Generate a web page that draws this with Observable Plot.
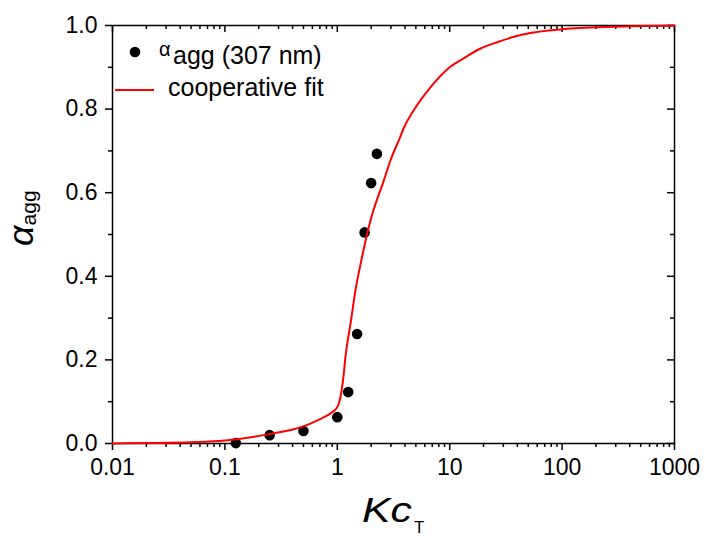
<!DOCTYPE html>
<html><head><meta charset="utf-8">
<script src="https://cdn.jsdelivr.net/npm/d3@7"></script>
<script src="https://cdn.jsdelivr.net/npm/@observablehq/plot@0.6"></script>
<style>body{margin:0;background:#fff}</style>
</head><body><div id="chart"></div>
<script>
// Measured data (alpha_agg at 307 nm)
const pointKc    = [0.125, 0.25, 0.5, 1.0, 1.25, 1.5, 1.75, 2.0, 2.25];
const pointAlpha = [0.001, 0.020, 0.030, 0.063, 0.123, 0.262, 0.505, 0.623, 0.693];
// Cooperative fit curve
const fitKc    = [0.01, 0.02, 0.05, 0.1, 0.255, 0.5, 0.71, 0.87, 1.0, 1.03, 1.08, 1.14, 1.18, 1.31, 1.45, 1.66, 1.97, 2.59, 2.97, 3.65, 3.91, 5.0, 6.74, 10, 13.4, 18.8, 26.4, 37.3, 52, 100, 288, 1000];
const fitAlpha = [0.000, 0.001, 0.003, 0.007, 0.023, 0.041, 0.059, 0.072, 0.087, 0.095, 0.119, 0.165, 0.206, 0.286, 0.366, 0.446, 0.533, 0.629, 0.677, 0.735, 0.755, 0.805, 0.852, 0.900, 0.922, 0.945, 0.960, 0.973, 0.982, 0.991, 0.997, 1.0];
// Ticks
const xMajorTicks = [0.01, 0.1, 1, 10, 100, 1000];
const xMinorMultipliers = [2, 3, 4, 5, 6, 7, 8, 9];
const xMinorTicks = xMajorTicks.slice(0, -1).flatMap(d => xMinorMultipliers.map(m => +(d * m).toPrecision(3)));
const yMajorTicks = [0, 0.2, 0.4, 0.6, 0.8, 1.0];
const yMinorTicks = [0.1, 0.3, 0.5, 0.7, 0.9];
const legendLabels = ["agg (307 nm)", "cooperative fit"];

const W = 705, H = 536, mL = 112, mR = 31, mT = 25, mB = 93;
const plotW = W - mL - mR, plotH = H - mT - mB;

const points = pointKc.map((k, i) => ({k, a: pointAlpha[i]}));
const fit = fitKc.map((k, i) => ({k, a: fitAlpha[i]}));

const chart = Plot.plot({
  width: W, height: H,
  marginLeft: mL, marginRight: mR, marginTop: mT, marginBottom: mB,
  style: {fontFamily: "'Liberation Sans', Arial, sans-serif", fontSize: "23px", color: "black", background: "white", overflow: "visible"},
  x: {type: "log", domain: [0.01, 1000]},
  y: {domain: [0, 1]},
  marks: [
    Plot.axisX(xMajorTicks, {anchor: "bottom", tickSize: 7, tickPadding: 8, tickFormat: d => String(d), fontSize: 23, label: null, strokeWidth: 1.5}),
    Plot.axisX(xMinorTicks, {anchor: "bottom", tickSize: 4, tickFormat: () => "", label: null, strokeWidth: 1.5}),
    Plot.axisY(yMajorTicks, {anchor: "left", tickSize: 7, tickPadding: 8, tickFormat: d3.format(".1f"), fontSize: 23, label: null, strokeWidth: 1.5}),
    Plot.axisY(yMinorTicks, {anchor: "left", tickSize: 4, tickFormat: () => "", label: null, strokeWidth: 1.5}),
    Plot.tickX(xMajorTicks, {x: d => d, insetBottom: plotH - 7, stroke: "black", strokeWidth: 1.5}),
    Plot.tickX(xMinorTicks, {x: d => d, insetBottom: plotH - 4, stroke: "black", strokeWidth: 1.5}),
    Plot.tickY(yMajorTicks, {y: d => d, insetLeft: plotW - 7, stroke: "black", strokeWidth: 1.5}),
    Plot.tickY(yMinorTicks, {y: d => d, insetLeft: plotW - 4, stroke: "black", strokeWidth: 1.5}),
    Plot.frame({stroke: "black", strokeWidth: 1.5}),
    Plot.dot(points, {x: "k", y: "a", r: 5.3, fill: "black", stroke: "none"}),
    Plot.line(fit, {x: "k", y: "a", stroke: "red", strokeWidth: 2, curve: "monotone-x"})
  ]
});
document.getElementById("chart").appendChild(chart);

const svg = d3.select(chart);
const font = "'Liberation Sans', Arial, sans-serif";
// X axis label: Kc_T
const xl = svg.append("text").attr("x", 362).attr("y", 522).attr("text-anchor", "start").attr("font-family", font).attr("fill", "black");
xl.append("tspan").attr("font-style", "italic").attr("font-size", 35).attr("textLength", 50).attr("lengthAdjust", "spacingAndGlyphs").text("Kc");
xl.append("tspan").attr("font-size", 17).attr("dy", 11).attr("dx", 2).text("T");
// Y axis label: alpha_agg
const yl = svg.append("text").attr("transform", "translate(33,246) rotate(-90)").attr("text-anchor", "start").attr("font-family", font).attr("fill", "black");
yl.append("tspan").attr("font-style", "italic").attr("font-size", 36).text("α");
yl.append("tspan").attr("font-size", 21).attr("dy", 3).text("agg");
// Legend
const lg = svg.append("g").attr("font-family", font).attr("fill", "black").attr("text-anchor", "start");
lg.append("circle").attr("cx", 135).attr("cy", 52).attr("r", 5.3).attr("fill", "black");
lg.append("text").attr("x", 159).attr("y", 56).attr("font-size", 20).text("α");
lg.append("text").attr("x", 173).attr("y", 64).attr("font-size", 25).text(legendLabels[0]);
lg.append("line").attr("x1", 115).attr("x2", 154).attr("y1", 90).attr("y2", 90).attr("stroke", "red").attr("stroke-width", 2);
lg.append("text").attr("x", 168).attr("y", 96).attr("font-size", 25).text(legendLabels[1]);
</script>
</body></html>
